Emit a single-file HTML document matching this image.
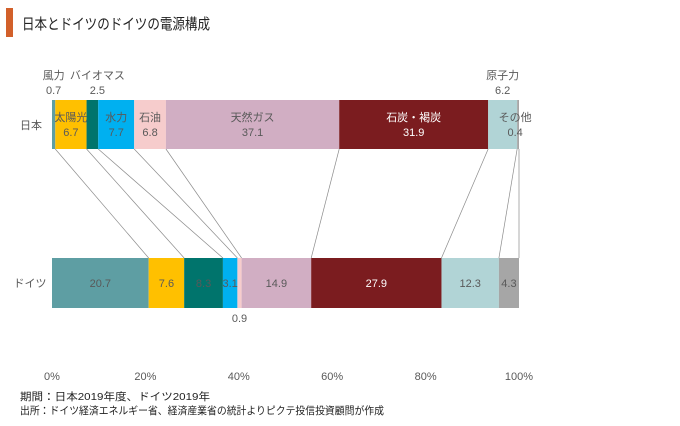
<!DOCTYPE html>
<html><head><meta charset="utf-8">
<style>
body{margin:0;background:#fff;font-family:"Liberation Sans","Noto Sans CJK JP",sans-serif;}
svg text{font-family:"Liberation Sans","Noto Sans CJK JP",sans-serif;}
</style></head>
<body>
<svg width="680" height="421" viewBox="0 0 680 421">
<rect x="6" y="8" width="7" height="29" fill="#d2602a"/>
<text x="22" y="29" font-size="15" fill="#222" textLength="188" lengthAdjust="spacingAndGlyphs">日本とドイツのドイツの電源構成</text>
<g id="bars"></g>
<g id="axis"></g>
<text x="20" y="400" font-size="10.5" fill="#222" textLength="190" lengthAdjust="spacingAndGlyphs">期間：日本2019年度、ドイツ2019年</text>
<text x="20" y="414" font-size="10.5" fill="#222" textLength="364" lengthAdjust="spacingAndGlyphs">出所：ドイツ経済エネルギー省、経済産業省の統計よりピクテ投信投資顧問が作成</text>
</svg>
<script>
const categories=["風力","太陽光","バイオマス","水力","石油","天然ガス","石炭・褐炭","原子力","その他"];
const japanValues=[0.7,6.7,2.5,7.7,6.8,37.1,31.9,6.2,0.4];
const germanyValues=[20.7,7.6,8.3,3.1,0.9,14.9,27.9,12.3,4.3];
const tickLabels=["0%","20%","40%","60%","80%","100%"];
const colors=["#5e9ea3","#ffc000","#00746c","#00b0f0","#f6cccc","#d1aec3","#7b1c1f","#b1d4d6","#a6a6a6"];
const NS="http://www.w3.org/2000/svg";
const x0=52,x1=519;
function xs(p){return x0+(x1-x0)*p/100;}
const g=document.getElementById('bars');
function mk(tag,attrs,parent){const e=document.createElementNS(NS,tag);for(const k in attrs)e.setAttribute(k,attrs[k]);(parent||g).appendChild(e);return e;}
function txt(x,y,s,opt){const t=mk('text',{x:x,y:y,'font-size':opt&&opt.size||11,fill:opt&&opt.fill||'#595959','text-anchor':'middle'});t.textContent=s;return t;}
const jy=100,jh=49,gy=258,gh=50;
let jc=[0],gc=[0];
japanValues.forEach((v,i)=>jc.push(jc[i]+v));
germanyValues.forEach((v,i)=>gc.push(gc[i]+v));
for(let i=1;i<jc.length;i++){
  const l=mk('line',{x1:xs(jc[i]),y1:jy+jh,x2:xs(gc[i]),y2:gy,stroke:'#8c8c8c','stroke-width':0.7});
  
  
}
japanValues.forEach((v,i)=>{
  const r=mk('rect',{x:xs(jc[i]),y:jy,width:xs(jc[i+1])-xs(jc[i]),height:jh,fill:colors[i]});
  
  
});
germanyValues.forEach((v,i)=>{
  const r=mk('rect',{x:xs(gc[i]),y:gy,width:xs(gc[i+1])-xs(gc[i]),height:gh,fill:colors[i]});
  
  
});
const outside={0:1,2:1,7:1};
japanValues.forEach((v,i)=>{
  let cx=(xs(jc[i])+xs(jc[i+1]))/2;
  const fill=i==6?'#fff':'#595959';
  if(outside[i]){
    if(i==2)cx+=5;
    txt(cx,79,categories[i]);txt(cx,94,v.toFixed(1));
  } else {
    if(i==8)cx=xs(jc[i])-2;
    txt(cx,121,categories[i],{fill:fill});
    txt(cx,136,v.toFixed(1),{fill:fill});
  }
});
germanyValues.forEach((v,i)=>{
  const cx=(xs(gc[i])+xs(gc[i+1]))/2;
  if(i==4){txt(cx,322,v.toFixed(1));return;}
  txt(cx,287,v.toFixed(1),{fill:i==6?'#fff':'#595959'});
});
txt(31,129,"日本");
txt(30,287,"ドイツ");
const ax=document.getElementById('axis');
tickLabels.forEach((s,i)=>{
  const t=mk('text',{x:xs(i*20),y:380,'font-size':11,fill:'#595959','text-anchor':'middle'},ax);
  t.textContent=s;
  
  
});
</script>
</body></html>
